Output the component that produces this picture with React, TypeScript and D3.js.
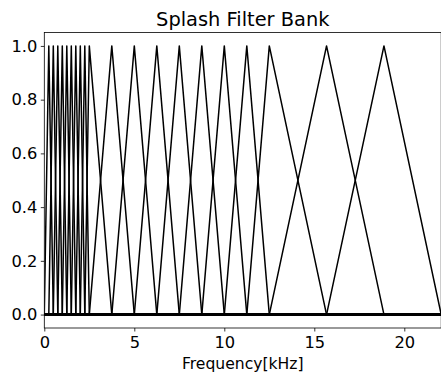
import { useRef, useEffect } from 'react';
import * as d3 from 'd3';

// filter centre frequencies in kHz
const lowCenters = [0.25, 0.5, 0.75, 1.0, 1.25, 1.5, 1.75, 2.0, 2.25, 2.5];
const midCenters = [3.75, 5.0, 6.25, 7.5, 8.75, 10.0, 11.25, 12.5];
const highCenters = [15.68, 18.87];
const nyquist = 22.05;
const xTicks = [0, 5, 10, 15, 20];
const yTicks = [0.0, 0.2, 0.4, 0.6, 0.8, 1.0];

const App = () => {
  const svgRef = useRef<SVGSVGElement>(null);

  useEffect(() => {
    if (!svgRef.current) return;
    const width = 441;
    const height = 373;
    const margin = { top: 32.5, right: 0, bottom: 45, left: 44.3 };
    const tickFont = 16.3;

    const svg = d3.select(svgRef.current)
      .attr('width', width)
      .attr('height', height)
      .style('font-family', '"DejaVu Sans", sans-serif');
    svg.selectAll('*').remove();

    const x = d3.scaleLinear()
      .domain([0, nyquist])
      .range([margin.left, 441.2]);
    const y = d3.scaleLinear()
      .domain([-0.05, 1.05])
      .range([height - margin.bottom, margin.top]);

    const centers = [...lowCenters, ...midCenters, ...highCenters];
    const edges = [0, ...centers, nyquist];

    const line = d3.line<[number, number]>()
      .x(d => x(d[0]))
      .y(d => y(d[1]));

    svg.append('defs').append('clipPath').attr('id', 'plot-clip')
      .append('rect')
      .attr('x', margin.left)
      .attr('y', margin.top)
      .attr('width', x(nyquist) - margin.left)
      .attr('height', y(-0.05) - y(1.05));

    const g = svg.append('g').attr('clip-path', 'url(#plot-clip)');

    centers.forEach((c, i) => {
      const lo = edges[i];
      const hi = edges[i + 2];
      const pts: [number, number][] = [[0, 0], [lo, 0], [c, 1], [hi, 0], [nyquist, 0]];
      g.append('path')
        .attr('d', line(pts))
        .attr('fill', 'none')
        .attr('stroke', '#000')
        .attr('stroke-width', 1.5)
        .attr('stroke-linejoin', 'round');
    });

    // spines
    svg.append('rect')
      .attr('x', margin.left)
      .attr('y', margin.top)
      .attr('width', x(nyquist) - margin.left)
      .attr('height', y(-0.05) - y(1.05))
      .attr('fill', 'none')
      .attr('stroke', '#000')
      .attr('stroke-width', 0.8);

    const xAxis = svg.append('g')
      .attr('transform', `translate(0,${y(-0.05)})`)
      .call(d3.axisBottom(x).tickValues(xTicks).tickFormat(d3.format('d')).tickSize(3.5).tickPadding(5).tickSizeOuter(0));
    xAxis.select('.domain').remove();
    xAxis.selectAll('text').attr('font-size', tickFont).attr('fill', '#000').attr('font-family', '"DejaVu Sans", sans-serif');
    xAxis.selectAll('line').attr('stroke-width', 0.8);

    const yAxis = svg.append('g')
      .attr('transform', `translate(${margin.left},0)`)
      .call(d3.axisLeft(y).tickValues(yTicks).tickFormat(d3.format('.1f')).tickSize(3.5).tickPadding(3.5).tickSizeOuter(0));
    yAxis.select('.domain').remove();
    yAxis.selectAll('text').attr('font-size', tickFont).attr('fill', '#000').attr('font-family', '"DejaVu Sans", sans-serif');
    yAxis.selectAll('line').attr('stroke-width', 0.8);

    svg.append('text')
      .attr('x', (margin.left + 441.2) / 2)
      .attr('y', 25.8)
      .attr('text-anchor', 'middle')
      .attr('font-size', 19.4)
      .text('Splash Filter Bank');

    svg.append('text')
      .attr('x', (margin.left + 441.2) / 2)
      .attr('y', 369)
      .attr('text-anchor', 'middle')
      .attr('font-size', 15.6)
      .text('Frequency[kHz]');
  }, []);

  return (
    <div style={{ position: 'absolute', left: 0, top: 0 }}>
      <svg ref={svgRef} style={{ display: 'block' }} />
    </div>
  );
};

export default App;
